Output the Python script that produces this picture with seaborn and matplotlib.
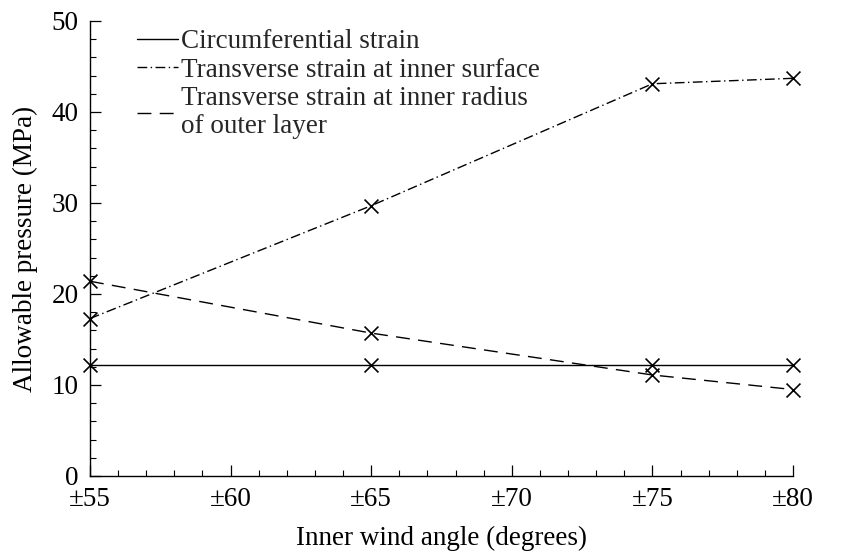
import matplotlib
matplotlib.use("Agg")
import matplotlib.pyplot as plt
import seaborn as sns
import pandas as pd
from matplotlib.ticker import MultipleLocator, FixedLocator

angles = [55, 65, 75, 80]
circumferential = [12.2, 12.2, 12.2, 12.2]
transverse_inner = [17.3, 29.7, 43.1, 43.7]
transverse_outer = [21.4, 15.7, 11.1, 9.5]
labels = ["Circumferential strain",
          "Transverse strain at inner surface",
          "Transverse strain at inner radius\nof outer layer"]
xtick_vals = [55, 60, 65, 70, 75, 80]
xtick_labels = ["±55", "±60", "±65", "±70", "±75", "±80"]

sns.set_theme(style="white")
plt.rcParams['font.family'] = ['Liberation Serif', 'DejaVu Serif']

FS = 19.5

fig, ax = plt.subplots(figsize=(8.44, 5.52), dpi=100)
fig.subplots_adjust(left=0.1066, right=0.9396, top=0.962, bottom=0.1377)

series = [circumferential, transverse_inner, transverse_outer]
styles = ['-', (0, (7, 2.5, 1, 2.5)), (0, (10, 6))]
for vals, lab, ls in zip(series, labels, styles):
    df = pd.DataFrame({"angle": angles, "p": vals})
    sns.lineplot(data=df, x="angle", y="p", ax=ax, color="black", linewidth=1.0,
                 linestyle=ls, label=lab)
    sns.scatterplot(data=df, x="angle", y="p", ax=ax, color="black", marker="x",
                    s=100, linewidth=1.2, legend=False, zorder=3, clip_on=False)

ax.set_xlim(55, 80)
ax.set_ylim(0, 50)
ax.xaxis.set_major_locator(FixedLocator(xtick_vals))
ax.set_xticklabels(xtick_labels)
ax.xaxis.set_minor_locator(MultipleLocator(1))
ax.yaxis.set_major_locator(MultipleLocator(10))
ax.yaxis.set_minor_locator(MultipleLocator(2))
ax.tick_params(which='both', direction='in', top=False, right=False, colors='black',
               labelsize=FS, bottom=True, left=True)
ax.tick_params(which='major', length=8, width=0.9)
ax.tick_params(which='minor', length=4, width=0.8)
ax.tick_params(axis='x', pad=8)
ax.tick_params(axis='y', pad=8)
for s in ['top', 'right']:
    ax.spines[s].set_visible(False)
for s in ['left', 'bottom']:
    ax.spines[s].set_color('black')
    ax.spines[s].set_linewidth(1.0)

ax.set_xlabel("Inner wind angle (degrees)", fontsize=FS, color='black', labelpad=10)
ax.set_ylabel("Allowable pressure (MPa)", fontsize=FS, color='black', labelpad=10)

leg = ax.legend(loc='upper left', bbox_to_anchor=(0.067, 0.982), frameon=False,
                fontsize=FS, handlelength=1.5, handletextpad=0.12,
                labelspacing=0.13, borderaxespad=0, borderpad=0)
for h in leg.get_lines():
    h.set_linewidth(1.0)
leg.get_texts()[2].set_linespacing(1.14)

fig.savefig("out.png", dpi=100)
